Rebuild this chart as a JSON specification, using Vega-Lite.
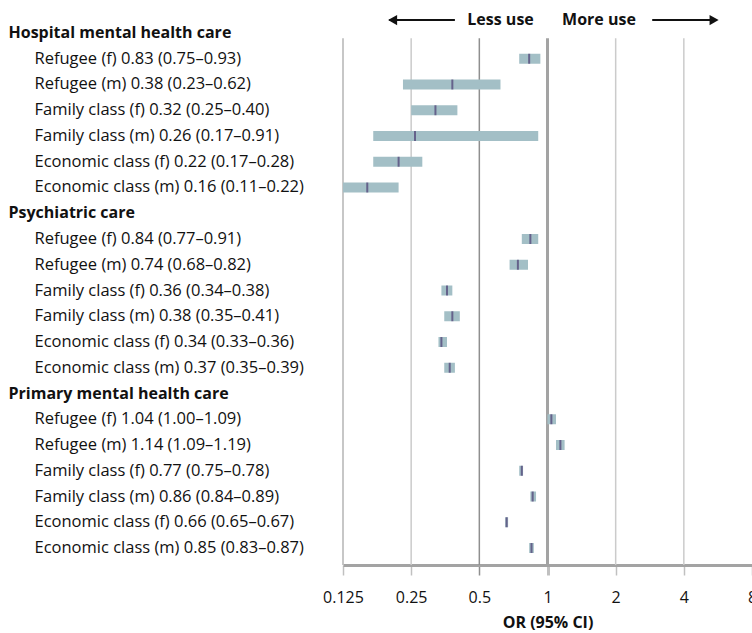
{
  "$schema": "https://vega.github.io/schema/vega-lite/v6.json",
  "autosize": "none",
  "width": 409,
  "height": 549,
  "padding": {"left": 343, "top": 16, "right": 0, "bottom": 68},
  "config": {"view": {"stroke": null}, "font": "Open Sans"},
  "datasets": {
    "rows": [
      {"label": "Hospital mental health care"},
      {"label": "Refugee (f) 0.83 (0.75–0.93)", "or": 0.83, "lo": 0.75, "hi": 0.93},
      {"label": "Refugee (m) 0.38 (0.23–0.62)", "or": 0.38, "lo": 0.23, "hi": 0.62},
      {"label": "Family class (f) 0.32 (0.25–0.40)", "or": 0.32, "lo": 0.25, "hi": 0.40},
      {"label": "Family class (m) 0.26 (0.17–0.91)", "or": 0.26, "lo": 0.17, "hi": 0.91},
      {"label": "Economic class (f) 0.22 (0.17–0.28)", "or": 0.22, "lo": 0.17, "hi": 0.28},
      {"label": "Economic class (m) 0.16 (0.11–0.22)", "or": 0.16, "lo": 0.11, "hi": 0.22},
      {"label": "Psychiatric care"},
      {"label": "Refugee (f) 0.84 (0.77–0.91)", "or": 0.84, "lo": 0.77, "hi": 0.91},
      {"label": "Refugee (m) 0.74 (0.68–0.82)", "or": 0.74, "lo": 0.68, "hi": 0.82},
      {"label": "Family class (f) 0.36 (0.34–0.38)", "or": 0.36, "lo": 0.34, "hi": 0.38},
      {"label": "Family class (m) 0.38 (0.35–0.41)", "or": 0.38, "lo": 0.35, "hi": 0.41},
      {"label": "Economic class (f) 0.34 (0.33–0.36)", "or": 0.34, "lo": 0.33, "hi": 0.36},
      {"label": "Economic class (m) 0.37 (0.35–0.39)", "or": 0.37, "lo": 0.35, "hi": 0.39},
      {"label": "Primary mental health care"},
      {"label": "Refugee (f) 1.04 (1.00–1.09)", "or": 1.04, "lo": 1.00, "hi": 1.09},
      {"label": "Refugee (m) 1.14 (1.09–1.19)", "or": 1.14, "lo": 1.09, "hi": 1.19},
      {"label": "Family class (f) 0.77 (0.75–0.78)", "or": 0.77, "lo": 0.75, "hi": 0.78},
      {"label": "Family class (m) 0.86 (0.84–0.89)", "or": 0.86, "lo": 0.84, "hi": 0.89},
      {"label": "Economic class (f) 0.66 (0.65–0.67)", "or": 0.66, "lo": 0.65, "hi": 0.67},
      {"label": "Economic class (m) 0.85 (0.83–0.87)", "or": 0.85, "lo": 0.83, "hi": 0.87}
    ],
    "grid": [{"g": 0.125}, {"g": 0.25}, {"g": 0.5}, {"g": 1}, {"g": 2}, {"g": 4}],
    "one": [{}]
  },
  "layer": [
    {
      "data": {"name": "grid"},
      "mark": {"type": "rule"},
      "encoding": {
        "x": {"field": "g", "type": "quantitative"},
        "y": {"datum": "Hospital mental health care", "type": "nominal", "bandPosition": 0.7},
        "y2": {"datum": "Economic class (m) 0.85 (0.83–0.87)", "bandPosition": 1.16},
        "color": {
          "condition": [
            {"test": "datum.g == 1", "value": "#a3a3a3"},
            {"test": "datum.g == 0.5", "value": "#8f8f8f"},
            {"test": "datum.g == 0.125", "value": "#b5b5b5"}
          ],
          "value": "#cbcbcb"
        },
        "strokeWidth": {"condition": {"test": "datum.g == 1", "value": 3}, "value": 1.5}
      }
    },
    {
      "data": {"name": "rows"},
      "transform": [{"filter": "isValid(datum.or)"}],
      "mark": {"type": "bar", "height": 10, "color": "#a3bfc6", "clip": true},
      "encoding": {
        "x": {
          "field": "lo", "type": "quantitative",
          "scale": {"type": "log", "base": 2, "domain": [0.125, 8], "nice": false},
          "axis": {
            "values": [0.125, 0.25, 0.5, 1, 2, 4, 8],
            "format": "~g",
            "grid": false,
            "domainColor": "#a3a3a3",
            "domainWidth": 3,
            "tickSize": 10,
            "tickColor": {"condition": {"test": "datum.value == 0.5", "value": "#8f8f8f"}, "value": "#c0c0c0"},
            "tickWidth": {"condition": {"test": "datum.value == 1", "value": 3}, "value": 1.5},
            "labelFont": "Open Sans",
            "labelFontSize": 16,
            "labelColor": "#111111",
            "labelPadding": 14,
            "labelFlush": false,
            "title": "OR (95% CI)",
            "titleFont": "Open Sans",
            "titleFontSize": 16,
            "titleFontWeight": "bold",
            "titleColor": "#111111",
            "titlePadding": 9
          }
        },
        "x2": {"field": "hi"},
        "y": {
          "field": "label", "type": "nominal",
          "scale": {
            "domain": [
              "Hospital mental health care",
              "Refugee (f) 0.83 (0.75–0.93)",
              "Refugee (m) 0.38 (0.23–0.62)",
              "Family class (f) 0.32 (0.25–0.40)",
              "Family class (m) 0.26 (0.17–0.91)",
              "Economic class (f) 0.22 (0.17–0.28)",
              "Economic class (m) 0.16 (0.11–0.22)",
              "Psychiatric care",
              "Refugee (f) 0.84 (0.77–0.91)",
              "Refugee (m) 0.74 (0.68–0.82)",
              "Family class (f) 0.36 (0.34–0.38)",
              "Family class (m) 0.38 (0.35–0.41)",
              "Economic class (f) 0.34 (0.33–0.36)",
              "Economic class (m) 0.37 (0.35–0.39)",
              "Primary mental health care",
              "Refugee (f) 1.04 (1.00–1.09)",
              "Refugee (m) 1.14 (1.09–1.19)",
              "Family class (f) 0.77 (0.75–0.78)",
              "Family class (m) 0.86 (0.84–0.89)",
              "Economic class (f) 0.66 (0.65–0.67)",
              "Economic class (m) 0.85 (0.83–0.87)"
            ],
            "paddingInner": 0,
            "paddingOuter": 0.16
          },
          "axis": {
            "title": null,
            "domain": false,
            "ticks": false,
            "grid": false,
            "labelAlign": "left",
            "labelBaseline": "middle",
            "labelLimit": 400,
            "labelFont": "Open Sans",
            "labelColor": "#111111",
            "labelFontSize": {
              "condition": {"test": "indexof(['Hospital mental health care','Psychiatric care','Primary mental health care'], datum.value) >= 0", "value": 16},
              "value": 16.5
            },
            "labelFontWeight": {
              "condition": {"test": "indexof(['Hospital mental health care','Psychiatric care','Primary mental health care'], datum.value) >= 0", "value": "bold"},
              "value": "normal"
            },
            "labelPadding": {
              "condition": {"test": "indexof(['Hospital mental health care','Psychiatric care','Primary mental health care'], datum.value) >= 0", "value": 335},
              "value": 309
            }
          }
        }
      }
    },
    {
      "data": {"name": "rows"},
      "transform": [{"filter": "isValid(datum.or)"}],
      "mark": {"type": "tick", "orient": "vertical", "size": 10, "thickness": 2, "color": "#4a3b72"},
      "encoding": {
        "x": {"field": "or", "type": "quantitative"},
        "y": {"field": "label", "type": "nominal"}
      }
    },
    {
      "data": {"name": "one"},
      "mark": {"type": "text", "align": "right", "baseline": "middle", "fontWeight": "bold", "fontSize": 16, "font": "Open Sans", "color": "#111111"},
      "encoding": {
        "x": {"datum": 0.87, "type": "quantitative"},
        "y": {"datum": "Hospital mental health care", "type": "nominal", "bandPosition": 0},
        "text": {"value": "Less use"}
      }
    },
    {
      "data": {"name": "one"},
      "mark": {"type": "text", "align": "left", "baseline": "middle", "fontWeight": "bold", "fontSize": 16, "font": "Open Sans", "color": "#111111"},
      "encoding": {
        "x": {"datum": 1.16, "type": "quantitative"},
        "y": {"datum": "Hospital mental health care", "type": "nominal", "bandPosition": 0},
        "text": {"value": "More use"}
      }
    },
    {
      "data": {"name": "one"},
      "mark": {"type": "rule", "color": "#111111", "strokeWidth": 2},
      "encoding": {
        "x": {"datum": 0.2, "type": "quantitative"},
        "x2": {"datum": 0.39},
        "y": {"datum": "Hospital mental health care", "type": "nominal", "bandPosition": 0}
      }
    },
    {
      "data": {"name": "one"},
      "mark": {"type": "rule", "color": "#111111", "strokeWidth": 2},
      "encoding": {
        "x": {"datum": 2.9, "type": "quantitative"},
        "x2": {"datum": 5.6},
        "y": {"datum": "Hospital mental health care", "type": "nominal", "bandPosition": 0}
      }
    },
    {
      "data": {"name": "one"},
      "mark": {"type": "point", "shape": "triangle-left", "filled": true, "size": 110, "color": "#111111", "opacity": 1},
      "encoding": {
        "x": {"datum": 0.207, "type": "quantitative"},
        "y": {"datum": "Hospital mental health care", "type": "nominal", "bandPosition": 0}
      }
    },
    {
      "data": {"name": "one"},
      "mark": {"type": "point", "shape": "triangle-right", "filled": true, "size": 110, "color": "#111111", "opacity": 1},
      "encoding": {
        "x": {"datum": 5.44, "type": "quantitative"},
        "y": {"datum": "Hospital mental health care", "type": "nominal", "bandPosition": 0}
      }
    }
  ]
}
